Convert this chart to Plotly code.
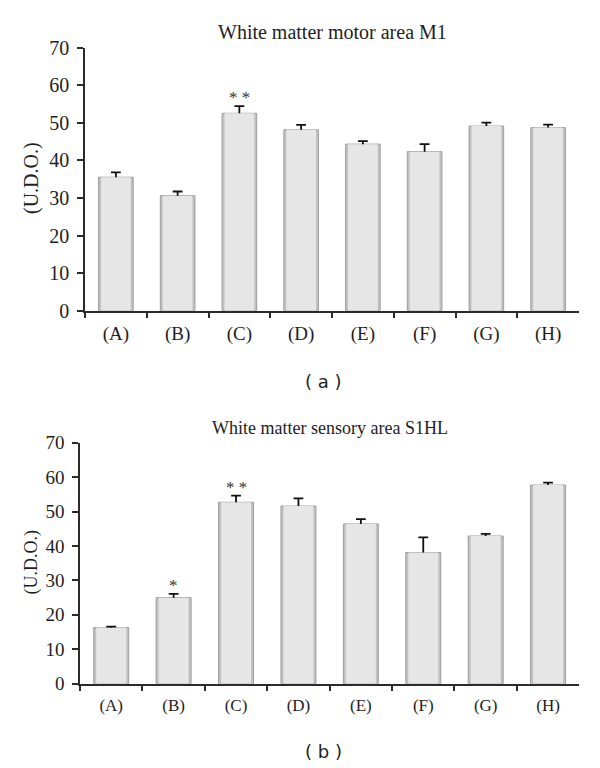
import plotly.graph_objects as go

categories = ["(A)", "(B)", "(C)", "(D)", "(E)", "(F)", "(G)", "(H)"]
m1_values = [35.5, 30.6, 52.5, 48.1, 44.3, 42.3, 49.1, 48.7]
m1_errors = [1.3, 1.1, 1.9, 1.3, 0.8, 2.0, 0.9, 0.8]
m1_marks = ["", "", "* *", "", "", "", "", ""]
s1hl_values = [16.3, 25.0, 52.7, 51.6, 46.4, 38.1, 42.9, 57.7]
s1hl_errors = [0.3, 1.1, 1.9, 2.2, 1.4, 4.4, 0.6, 0.7]
s1hl_marks = ["", "*", "* *", "", "", "", "", ""]
y_ticks = [0, 10, 20, 30, 40, 50, 60, 70]
titles = ["White matter motor area M1", "White matter sensory area S1HL"]
panel_labels = ["( a )", "( b )"]
y_title = "(U.D.O.)"

SERIF = "Liberation Serif"
AX = "#2b2b2b"
TXT = "#1e1e1e"

fig = go.Figure()

panels = [
    dict(vals=m1_values, errs=m1_errors, marks=m1_marks, xa="x", ya="y",
         xd=[85 / 600, 579 / 600], yd=[(768 - 310.7) / 768, (768 - 47.5) / 768],
         xfs=19, yfs=20, tfs=20, ytc=178, titley=32),
    dict(vals=s1hl_values, errs=s1hl_errors, marks=s1hl_marks, xa="x2", ya="y2",
         xd=[80 / 600, 579.3 / 600], yd=[(768 - 683.7) / 768, (768 - 442.7) / 768],
         xfs=17, yfs=19, tfs=18, ytc=562.5, titley=428),
]

annotations = []
for i, p in enumerate(panels):
    # outer bar (shaded sides)
    fig.add_trace(go.Bar(
        x=categories, y=p["vals"], xaxis=p["xa"], yaxis=p["ya"],
        width=0.56,
        marker=dict(color="#c2c2c2", line=dict(color="#9c9c9c", width=1)),
        showlegend=False, hoverinfo="skip",
    ))
    # inner face
    fig.add_trace(go.Bar(
        x=categories, y=p["vals"], xaxis=p["xa"], yaxis=p["ya"],
        width=0.48,
        marker=dict(color="#e6e6e6", line=dict(width=0)),
        showlegend=False, hoverinfo="skip",
    ))
    tops = [v + e for v, e in zip(p["vals"], p["errs"])]
    fig.add_trace(go.Scatter(
        x=categories, y=tops, xaxis=p["xa"], yaxis=p["ya"], mode="markers",
        marker=dict(symbol="line-ew", size=7, line=dict(color="#111", width=1.8)),
        error_y=dict(type="data", symmetric=False, array=[0] * len(tops),
                     arrayminus=p["errs"], color="#111", thickness=1.8, width=0),
        showlegend=False,
    ))
    for c, t, mk in zip(categories, tops, p["marks"]):
        if mk:
            annotations.append(dict(
                x=c, y=t, xref=p["xa"], yref=p["ya"], text=mk,
                showarrow=False, yanchor="bottom", yshift=-3,
                font=dict(family=SERIF, size=17, color="#333")))
    suffix = "" if i == 0 else "2"
    common = dict(showline=True, linecolor=AX, linewidth=1.5, ticks="outside",
                  ticklen=6, tickwidth=1.5, tickcolor=AX, showgrid=False,
                  zeroline=False, automargin=False)
    fig.update_layout(**{
        "xaxis" + suffix: dict(common, domain=p["xd"], anchor="y" + suffix,
                               type="category", tickson="boundaries",
                               range=[-0.5, 7.5], ticklabelstandoff=5,
                               tickfont=dict(family=SERIF, size=p["xfs"], color=TXT)),
        "yaxis" + suffix: dict(common, domain=p["yd"], anchor="x" + suffix,
                               range=[0, 70], tickvals=y_ticks,
                               ticklabelstandoff=4,
                               tickfont=dict(family=SERIF, size=p["yfs"], color=TXT)),
    })
    xc = (p["xd"][0] + p["xd"][1]) / 2
    annotations.append(dict(
        x=xc, y=(768 - p["titley"]) / 768, xref="paper", yref="paper",
        text=titles[i], showarrow=False, yanchor="middle",
        font=dict(family=SERIF, size=p["tfs"], color=TXT)))
    annotations.append(dict(
        x=31 / 600, y=(768 - p["ytc"]) / 768, xref="paper", yref="paper",
        text=y_title, showarrow=False, textangle=-90, xanchor="center",
        yanchor="middle", font=dict(family=SERIF, size=p["tfs"], color=TXT)))

annotations.append(dict(x=323 / 600, y=(768 - 381.7) / 768, xref="paper", yref="paper",
                        text=panel_labels[0], showarrow=False, yanchor="middle",
                        font=dict(family="DejaVu Sans", size=18, color=TXT)))
annotations.append(dict(x=323.5 / 600, y=(768 - 751.7) / 768, xref="paper", yref="paper",
                        text=panel_labels[1], showarrow=False, yanchor="middle",
                        font=dict(family="DejaVu Sans", size=18, color=TXT)))

fig.update_layout(
    width=600, height=768,
    margin=dict(l=0, r=0, t=0, b=0, autoexpand=False),
    paper_bgcolor="white", plot_bgcolor="white",
    annotations=annotations,
    barmode="overlay",
)

fig.write_html(
    "out.html",
    config={"displayModeBar": False},
    post_script="document.body.style.margin='0';document.body.style.overflow='hidden';",
)
